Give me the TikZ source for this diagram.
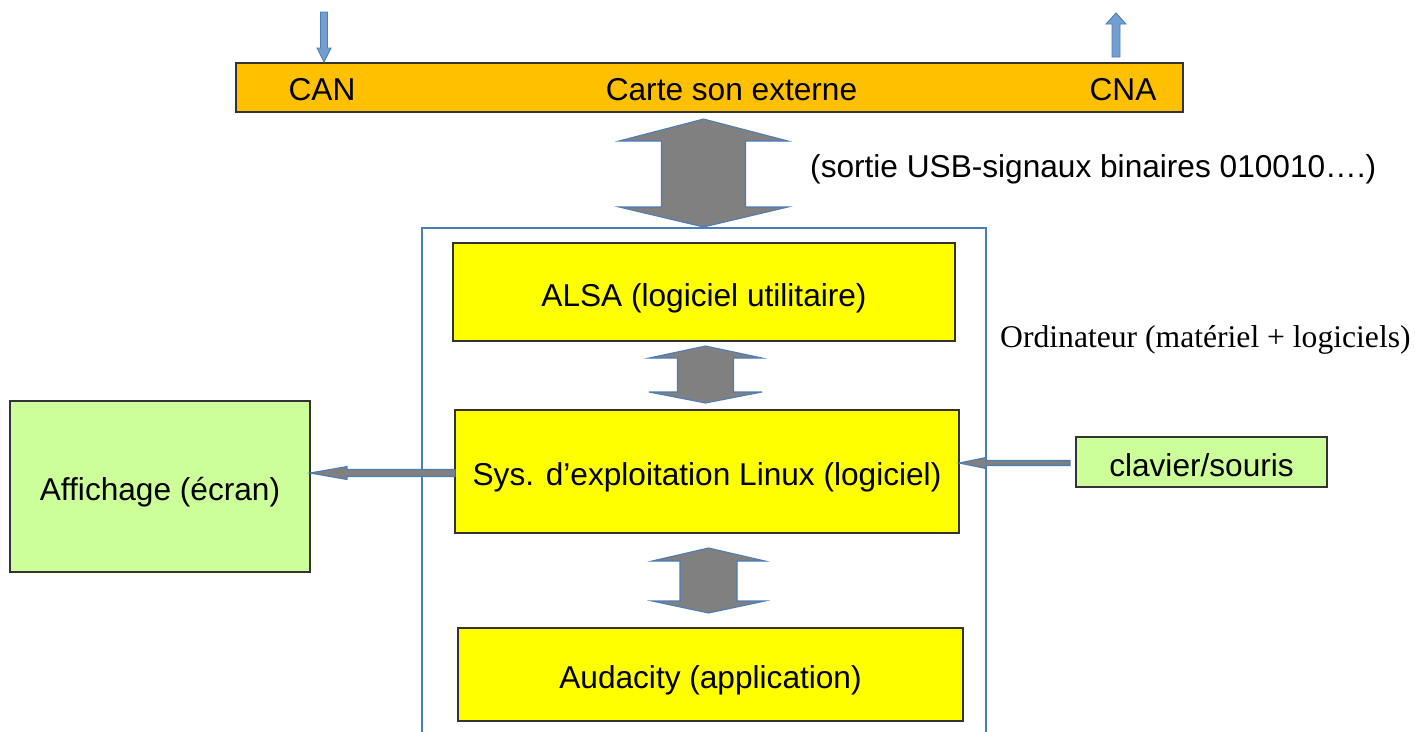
\documentclass[tikz,border=0pt]{standalone}
\usepackage{fontspec}
\setmainfont{Liberation Serif}
\setsansfont{Liberation Sans}
\usetikzlibrary{calc}

\definecolor{carteorange}{HTML}{FFC000}
\definecolor{logjaune}{HTML}{FFFF00}
\definecolor{periphvert}{HTML}{CCFF99}
\definecolor{flechegris}{HTML}{808080}
\definecolor{bordbleu}{HTML}{4A7EBB}
\definecolor{flechebleu}{HTML}{729FCF}

\begin{document}
\begin{tikzpicture}[x=0.02cm,y=-0.02cm,
	font=\sffamily\fontsize{18}{22}\selectfont,
	boite/.style={draw=black!80,line width=0.7pt,inner sep=0,outer sep=0,text height=16pt,text depth=0pt},
	grosse/.style={fill=flechegris,draw=bordbleu,line width=0.6pt},
	fine/.style={fill=flechebleu,draw=bordbleu,line width=0.5pt}]
	\useasboundingbox (0,0) rectangle (1415,731);
	% carte son
	\node[boite,fill=carteorange,minimum width=18.94cm,minimum height=0.98cm] (carte) at (709.5,87.5) {};
	\node (cartetxt) at (731.5,90) {Carte son externe};
	\node (can) at (322,90) {CAN};
	\node (cna) at (1123,90) {CNA};
	\node[anchor=west] (usb) at (804,169) {(sortie USB-signaux binaires 010010….)};
	% ordinateur
	\draw[bordbleu,line width=0.6pt] (422,735) -- (422,228) -- (986,228) -- (986,735);
	\node[anchor=west,font=\rmfamily\fontsize{18}{22}\selectfont] (ordi) at (994,340) {Ordinateur (matériel + logiciels)};
	\node[boite,fill=logjaune,minimum width=10.04cm,minimum height=1.96cm] (alsa) at (704,292) {ALSA (logiciel utilitaire)};
	\node[boite,fill=logjaune,minimum width=10.08cm,minimum height=2.46cm] (sys) at (707,471.5) {Sys. d’exploitation Linux (logiciel)};
	\node[boite,fill=logjaune,minimum width=10.1cm,minimum height=1.86cm] (auda) at (710.5,674.5) {Audacity (application)};
	% peripheriques
	\node[boite,fill=periphvert,minimum width=6cm,minimum height=3.42cm] (aff) at (160,486.5) {Affichage (écran)};
	\node[boite,fill=periphvert,minimum width=5.02cm,minimum height=1cm] (clav) at (1201.5,462) {clavier/souris};
	% entree / sortie de la carte
	\coordinate (in) at (324,12);
	\coordinate (cantip) at (324,62);
	\filldraw[fine] ($(in)+(-3.5,0)$) -- ($(cantip)+(-3.5,-14)$) -- ($(cantip)+(-7,-14)$) -- (cantip)
		-- ($(cantip)+(7,-14)$) -- ($(cantip)+(3.5,-14)$) -- ($(in)+(3.5,0)$) -- cycle;
	\coordinate (out) at (1116,57);
	\coordinate (cnatip) at (1116,13);
	\filldraw[fine] ($(out)+(-4,0)$) -- ($(cnatip)+(-4,11)$) -- ($(cnatip)+(-10,11)$) -- (cnatip)
		-- ($(cnatip)+(10,11)$) -- ($(cnatip)+(4,11)$) -- ($(out)+(4,0)$) -- cycle;
	% liaison USB
	\coordinate (u1) at (703.5,119);
	\coordinate (u2) at (703.5,227);
	\filldraw[grosse] (u1) -- ($(u1)+(84.5,22)$) -- ($(u1)+(42,22)$) -- ($(u2)+(42,-20)$) -- ($(u2)+(84.5,-20)$) -- (u2)
		-- ($(u2)+(-84.5,-20)$) -- ($(u2)+(-42,-20)$) -- ($(u1)+(-42,22)$) -- ($(u1)+(-84.5,22)$) -- cycle;
	% alsa <-> sys
	\coordinate (a1) at ($(alsa.south)+(1.5,5)$);
	\coordinate (a2) at ($(sys.north)+(-1.5,-7)$);
	\filldraw[grosse] (a1) -- ($(a1)+(56.5,12)$) -- ($(a1)+(28,12)$) -- ($(a2)+(28,-11)$) -- ($(a2)+(56.5,-11)$) -- (a2)
		-- ($(a2)+(-56.5,-11)$) -- ($(a2)+(-28,-11)$) -- ($(a1)+(-28,12)$) -- ($(a1)+(-56.5,12)$) -- cycle;
	% sys <-> audacity
	\coordinate (b1) at ($(sys.south)+(1.5,15)$);
	\coordinate (b2) at ($(auda.north)+(-2,-15)$);
	\filldraw[grosse] (b1) -- ($(b1)+(56.5,13)$) -- ($(b1)+(28.5,13)$) -- ($(b2)+(28.5,-12)$) -- ($(b2)+(56.5,-12)$) -- (b2)
		-- ($(b2)+(-56.5,-12)$) -- ($(b2)+(-28.5,-12)$) -- ($(b1)+(-28.5,13)$) -- ($(b1)+(-56.5,13)$) -- cycle;
	% sys -> affichage
	\coordinate (s1) at ($(sys.west)+(0,1.5)$);
	\coordinate (s2) at (aff.east |- s1);
	\filldraw[grosse] ($(s1)+(0,-3.5)$) -- ($(s2)+(37,-3.5)$) -- ($(s2)+(37,-6.5)$) -- (s2)
		-- ($(s2)+(37,6.5)$) -- ($(s2)+(37,3.5)$) -- ($(s1)+(0,3.5)$) -- cycle;
	% clavier -> sys
	\coordinate (k1) at ($(clav.west)+(-6,1)$);
	\coordinate (k2) at (sys.east |- k1);
	\filldraw[grosse] ($(k1)+(0,-2.5)$) -- ($(k2)+(27,-2.5)$) -- ($(k2)+(27,-5.5)$) -- (k2)
		-- ($(k2)+(27,5.5)$) -- ($(k2)+(27,2.5)$) -- ($(k1)+(0,2.5)$) -- cycle;
\end{tikzpicture}
\end{document}
